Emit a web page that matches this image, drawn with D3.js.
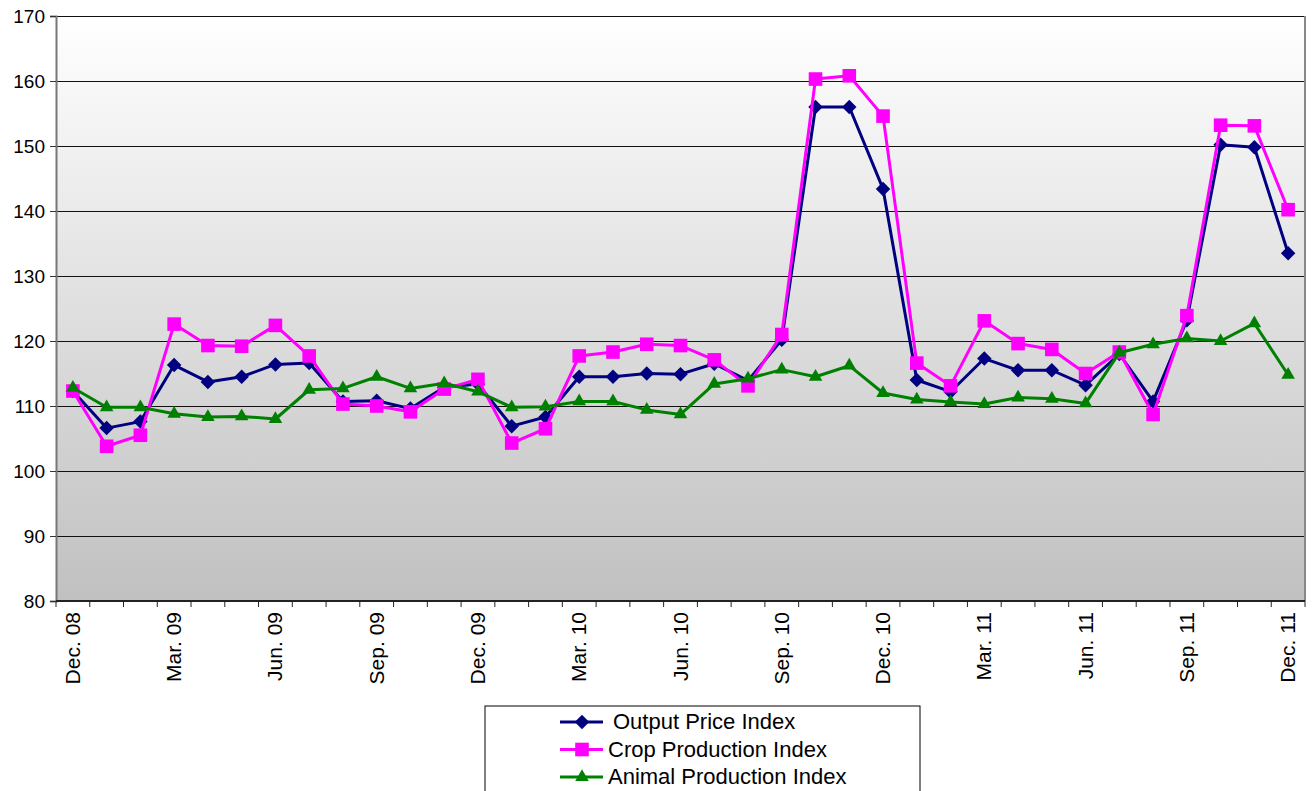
<!DOCTYPE html>
<html>
<head>
<meta charset="utf-8">
<script src="https://cdn.jsdelivr.net/npm/d3@7"></script>
<style>
  body { margin: 0; background: #fff; }
  text { font-family: "Liberation Sans", Arial, sans-serif; }
</style>
</head>
<body>
<div id="chart"></div>
<script>
const months = ["Dec. 08","Jan. 09","Feb. 09","Mar. 09","Apr. 09","May. 09","Jun. 09","Jul. 09","Aug. 09","Sep. 09","Oct. 09","Nov. 09",
  "Dec. 09","Jan. 10","Feb. 10","Mar. 10","Apr. 10","May. 10","Jun. 10","Jul. 10","Aug. 10","Sep. 10","Oct. 10","Nov. 10",
  "Dec. 10","Jan. 11","Feb. 11","Mar. 11","Apr. 11","May. 11","Jun. 11","Jul. 11","Aug. 11","Sep. 11","Oct. 11","Nov. 11","Dec. 11"];

const outputPrice = [112.3,106.6,107.6,116.3,113.7,114.5,116.4,116.6,110.7,110.8,109.6,112.9,
  113.4,106.9,108.3,114.5,114.5,115.0,114.9,116.5,113.9,120.2,156.0,156.0,
  143.4,114.0,112.2,117.3,115.5,115.5,113.2,118.0,110.7,123.2,150.2,149.8,133.5];

const cropProduction = [112.3,103.8,105.5,122.6,119.3,119.2,122.4,117.7,110.3,110.0,109.1,112.6,
  114.1,104.3,106.5,117.7,118.3,119.5,119.3,117.1,113.1,121.0,160.3,160.8,
  154.6,116.6,113.1,123.1,119.6,118.7,115.0,118.3,108.7,123.9,153.2,153.1,140.2];

const animalProduction = [112.8,109.8,109.8,108.8,108.3,108.4,108.0,112.5,112.7,114.5,112.7,113.5,
  112.2,109.8,109.9,110.7,110.7,109.4,108.7,113.4,114.2,115.6,114.5,116.2,
  112.0,111.0,110.6,110.3,111.3,111.1,110.4,118.2,119.5,120.4,120.0,122.7,114.8];

const yTicks = [80,90,100,110,120,130,140,150,160,170];

// diamond = square rotated 45 degrees
const series = [
  { name: "Output Price Index", values: outputPrice, color: "#000080", symbol: d3.symbolSquare, size: 105, rot: 45 },
  { name: "Crop Production Index", values: cropProduction, color: "#ff00ff", symbol: d3.symbolSquare, size: 185, rot: 0 },
  { name: "Animal Production Index", values: animalProduction, color: "#008000", symbol: d3.symbolTriangle, size: 80, rot: 0 }
];

const W = 1312, H = 791;
const margin = { top: 16, right: 7, bottom: 190, left: 56 };
const width = W - margin.left - margin.right,
      height = H - margin.top - margin.bottom;

const svg = d3.select("#chart").append("svg")
  .attr("width", W).attr("height", H);

const defs = svg.append("defs");
const grad = defs.append("linearGradient")
  .attr("id", "bg").attr("x1", "0%").attr("x2", "0%").attr("y1", "0%").attr("y2", "100%");
grad.append("stop").attr("offset", "0%").attr("stop-color", "#ffffff");
grad.append("stop").attr("offset", "100%").attr("stop-color", "#c0c0c0");

const g = svg.append("g").attr("transform", `translate(${margin.left},${margin.top})`);

const x = d3.scaleBand().domain(months).range([0, width]);
const y = d3.scaleLinear().domain([80, 170]).range([height, 0]);

g.append("rect").attr("width", width).attr("height", height).attr("fill", "url(#bg)");

// gridlines
g.selectAll(".grid").data(yTicks).enter().append("line")
  .attr("x1", 0).attr("x2", width)
  .attr("y1", d => y(d)).attr("y2", d => y(d))
  .attr("stroke", "#111").attr("stroke-width", 1)
  .attr("shape-rendering", "crispEdges");

// right border
g.append("line").attr("x1", width).attr("x2", width).attr("y1", 0).attr("y2", height)
  .attr("stroke", "#888").attr("stroke-width", 2);

// y axis
const yAxis = g.append("g").call(d3.axisLeft(y).tickValues(yTicks).tickSize(6).tickPadding(5));
yAxis.select(".domain").attr("stroke", "#777").attr("stroke-width", 2);
yAxis.selectAll(".tick line").attr("stroke", "#333").attr("shape-rendering", "crispEdges");
yAxis.selectAll("text").attr("font-size", 19).attr("fill", "#000")
  .style("font-family", "'Liberation Sans', Arial, sans-serif");

// x axis: ticks at band boundaries
const xa = g.append("g").attr("transform", `translate(0,${height})`);
xa.append("line").attr("x1", 0).attr("x2", width).attr("stroke", "#222").attr("stroke-width", 2);
xa.selectAll(".xt").data(months.concat(["end"])).enter().append("line")
  .attr("x1", (d, i) => i * x.bandwidth()).attr("x2", (d, i) => i * x.bandwidth())
  .attr("y1", 0).attr("y2", 6).attr("stroke", "#222");
xa.selectAll(".xl").data(months.filter((d, i) => i % 3 === 0)).enter().append("text")
  .attr("transform", d => `translate(${x(d) + x.bandwidth() / 2 + 7},11) rotate(-90)`)
  .attr("text-anchor", "end")
  .attr("font-size", 21)
  .text(d => d);

// lines and markers
const line = d3.line().x((d, i) => x(months[i]) + x.bandwidth() / 2).y(d => y(d));

series.forEach(s => {
  g.append("path").datum(s.values)
    .attr("fill", "none").attr("stroke", s.color).attr("stroke-width", 3)
    .attr("stroke-linejoin", "round")
    .attr("d", line);
  g.selectAll(null).data(s.values).enter().append("path")
    .attr("transform", (d, i) => `translate(${x(months[i]) + x.bandwidth() / 2},${y(d)}) rotate(${s.rot})`)
    .attr("d", d3.symbol().type(s.symbol).size(s.size))
    .attr("fill", s.color);
});

// legend
const lg = svg.append("g").attr("transform", "translate(485,706)");
lg.append("rect").attr("width", 435).attr("height", 95)
  .attr("fill", "#fff").attr("stroke", "#000").attr("stroke-width", 1);
series.forEach((s, i) => {
  const row = lg.append("g").attr("transform", `translate(75,${16 + i * 27.5})`);
  row.append("line").attr("x1", 0).attr("x2", 43).attr("stroke", s.color).attr("stroke-width", 3);
  row.append("path").attr("transform", `translate(22,0) rotate(${s.rot})`)
    .attr("d", d3.symbol().type(s.symbol).size(s.size)).attr("fill", s.color);
  row.append("text").attr("x", i === 0 ? 53 : 48).attr("y", 7).attr("font-size", 22).text(s.name);
});
</script>
</body>
</html>
